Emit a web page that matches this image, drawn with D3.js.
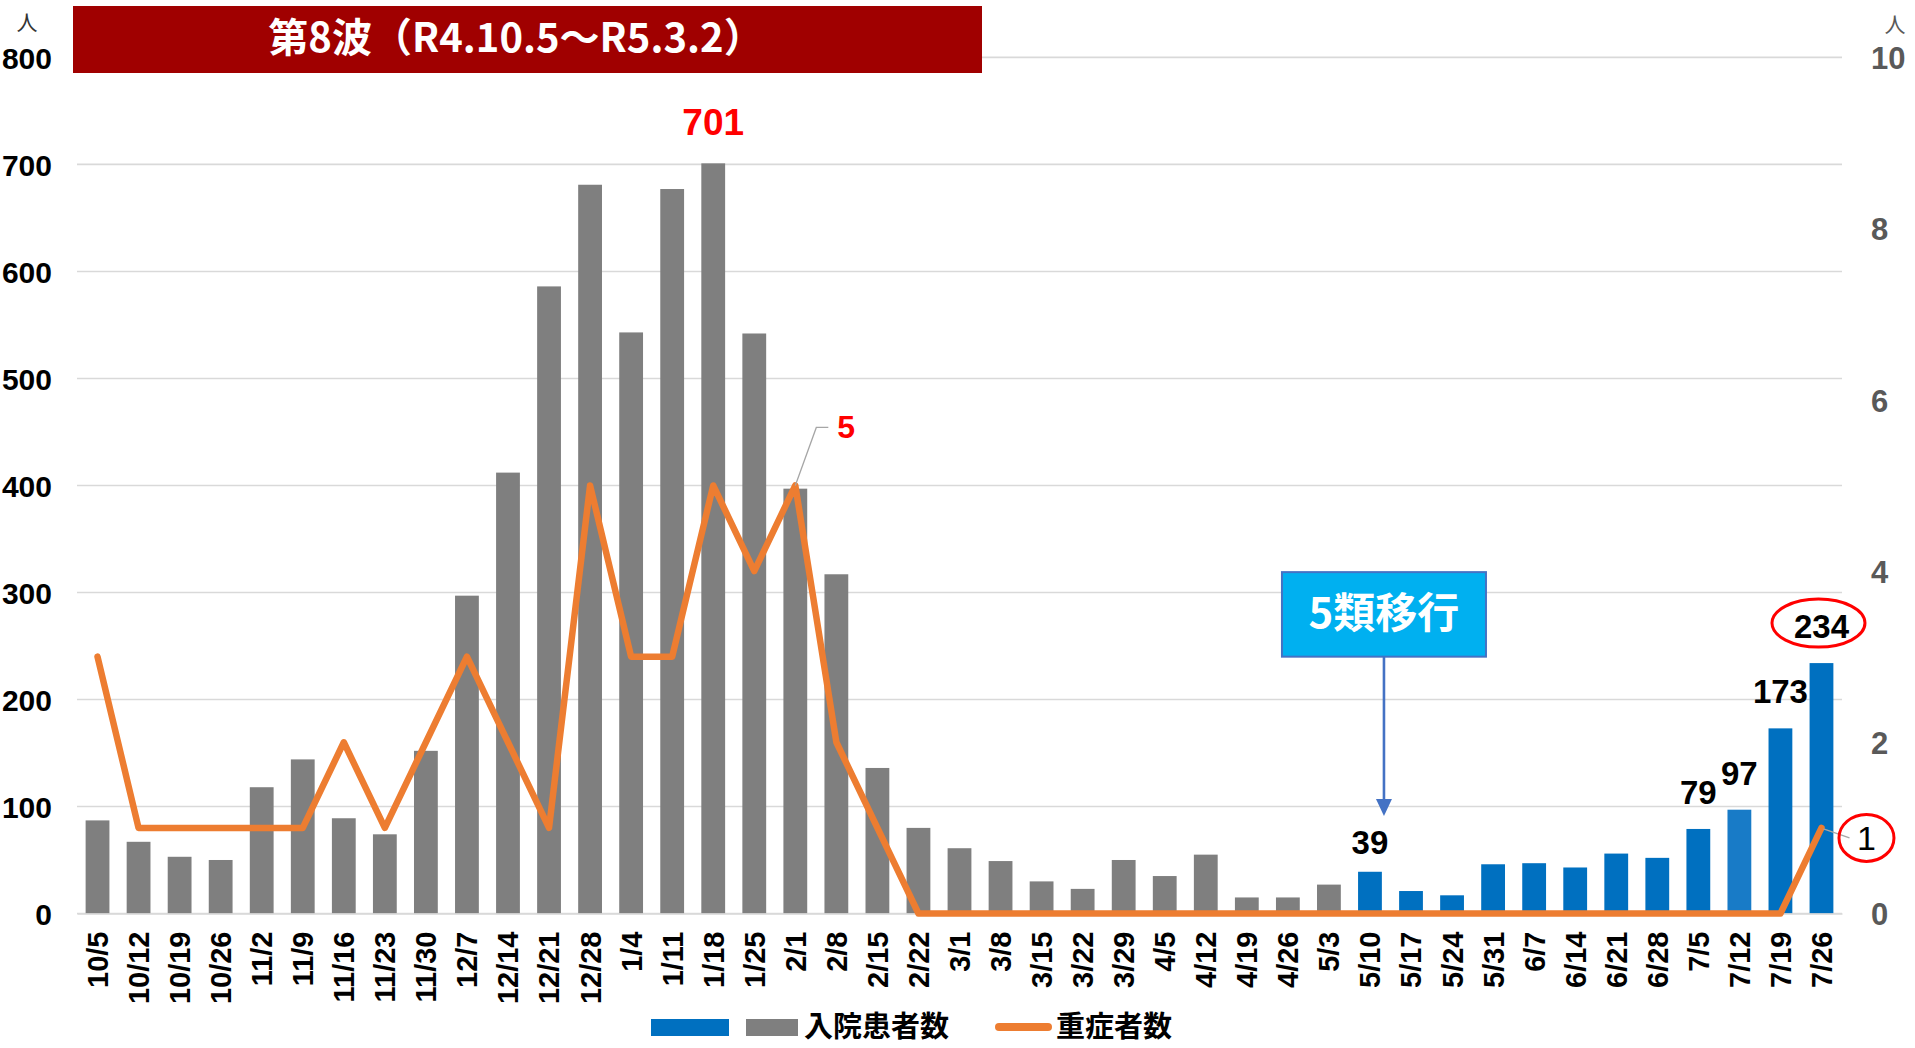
<!DOCTYPE html>
<html><head><meta charset="utf-8">
<script src="https://cdn.jsdelivr.net/npm/d3@7"></script>
<style>
html,body{margin:0;padding:0;background:#fff;}
svg{display:block;}
.num{font-family:"Liberation Sans",Arial,sans-serif;font-weight:bold;}
.cjk{font-family:"Noto Sans CJK JP","Noto Sans",sans-serif;font-weight:bold;}
</style></head>
<body>
<svg id="chart" width="1915" height="1048"></svg>
<script>
const categories = ["10/5","10/12","10/19","10/26","11/2","11/9","11/16","11/23","11/30","12/7","12/14","12/21","12/28","1/4","1/11","1/18","1/25","2/1","2/8","2/15","2/22","3/1","3/8","3/15","3/22","3/29","4/5","4/12","4/19","4/26","5/3","5/10","5/17","5/24","5/31","6/7","6/14","6/21","6/28","7/5","7/12","7/19","7/26"];
const hospitalized = [87,67,53,50,118,144,89,74,152,297,412,586,681,543,677,701,542,397,317,136,80,61,49,30,23,50,35,55,15,15,27,39,21,17,46,47,43,56,52,79,97,173,234];
const severe = [3,1,1,1,1,1,2,1,2,3,2,1,5,3,3,5,4,5,2,1,0,0,0,0,0,0,0,0,0,0,0,0,0,0,0,0,0,0,0,0,0,0,1];
const leftTicks = [0,100,200,300,400,500,600,700,800];
const rightTicks = [0,2,4,6,8,10];
const titleText = "第8波（R4.10.5～R5.3.2）";
const seriesNames = ["入院患者数","重症者数"];
const shiftLabel = "5類移行";
const shiftCategory = "5/10";
const blackLabelCats = ["5/10","7/5","7/12","7/19","7/26"];
const peakCat = "1/18";
const severePeakCat = "2/1";
const lastCat = "7/26";

const svg = d3.select("#chart");
const L = 77, R = 1842, T = 57.4, B = 913.5;

const x = d3.scaleBand().domain(categories).range([L, R]).paddingInner(0.42).paddingOuter(0.21);
const y = d3.scaleLinear().domain([0, 800]).range([B, T]);
const y2 = d3.scaleLinear().domain([0, 10]).range([B, T]);
const xc = c => x(c) + x.bandwidth() / 2;

const GRAY = "#7f7f7f", BLUE = "#0070c0", BLUE2 = "#187bc7", ORANGE = "#ed7d31";
const shiftIdx = categories.indexOf(shiftCategory);
const barColor = (c, i) => i < shiftIdx ? GRAY : (c === "7/12" ? BLUE2 : BLUE);

// gridlines
svg.append("g").selectAll("line").data(leftTicks).join("line")
  .attr("x1", L).attr("x2", R).attr("y1", d => y(d)).attr("y2", d => y(d))
  .attr("stroke", "#d9d9d9").attr("stroke-width", 1.6);

// left axis
const yAxis = d3.axisLeft(y).tickValues(leftTicks).tickSize(0).tickPadding(0);
const gy = svg.append("g").attr("transform", `translate(${52},0)`).call(yAxis);
gy.select(".domain").remove();
gy.selectAll("text").attr("class", "num").style("font-size", "30px").attr("fill", "#000").attr("dy", "0.36em");

// right axis
const yAxis2 = d3.axisRight(y2).tickValues(rightTicks).tickSize(0).tickPadding(0);
const gy2 = svg.append("g").attr("transform", `translate(${1871},0)`).call(yAxis2);
gy2.select(".domain").remove();
gy2.selectAll("text").attr("class", "num").style("font-size", "31px").attr("fill", "#595959").attr("dy", "0.36em");

// unit labels
svg.append("text").attr("class", "cjk").attr("x", 27).attr("y", 30).attr("text-anchor", "middle")
  .style("font-size", "21px").style("font-weight", "normal").attr("fill", "#333").text("人");
svg.append("text").attr("class", "cjk").attr("x", 1895).attr("y", 32).attr("text-anchor", "middle")
  .style("font-size", "21px").style("font-weight", "normal").attr("fill", "#595959").text("人");

// bars
svg.append("g").selectAll("rect").data(categories).join("rect")
  .attr("x", d => x(d)).attr("width", x.bandwidth())
  .attr("y", (d, i) => y(hospitalized[i])).attr("height", (d, i) => y(0) - y(hospitalized[i]))
  .attr("fill", (d, i) => barColor(d, i));

// x axis
const xAxis = d3.axisBottom(x).tickSize(0).tickPadding(0);
const gx = svg.append("g").attr("transform", `translate(0,${B})`).call(xAxis);
gx.select(".domain").attr("stroke", "#d9d9d9").attr("stroke-width", 1.6);
gx.selectAll("text").attr("class", "num").style("font-size", "29px").attr("fill", "#000")
  .attr("transform", "translate(0,18) rotate(-90)").attr("text-anchor", "end")
  .attr("x", 0).attr("y", 0).attr("dy", "0.36em");

// severe line
const line = d3.line().x((d, i) => xc(categories[i])).y(d => y2(d));
svg.append("path").datum(severe).attr("d", line).attr("fill", "none")
  .attr("stroke", ORANGE).attr("stroke-width", 6.5).attr("stroke-linejoin", "round").attr("stroke-linecap", "round");

// peak label 701
const pi = categories.indexOf(peakCat);
svg.append("text").attr("class", "num").attr("x", xc(peakCat)).attr("y", y(hospitalized[pi]) - 28)
  .attr("text-anchor", "middle").style("font-size", "37px").attr("fill", "#ff0000").text(hospitalized[pi]);

// black labels
blackLabelCats.forEach(c => {
  const i = categories.indexOf(c);
  const off = c === shiftCategory ? 18 : 25;
  svg.append("text").attr("class", "num").attr("x", xc(c)).attr("y", y(hospitalized[i]) - off)
    .attr("text-anchor", "middle").style("font-size", "33px").attr("fill", "#000").text(hospitalized[i]);
});

// circle around last bar label
const li = categories.indexOf(lastCat);
svg.append("ellipse").attr("cx", xc(lastCat) - 3).attr("cy", y(hospitalized[li]) - 40)
  .attr("rx", 46.5).attr("ry", 24).attr("fill", "none").attr("stroke", "#ff0000").attr("stroke-width", 3);

// severe peak label "5" with leader
const si = categories.indexOf(severePeakCat);
const sx = xc(severePeakCat), sy = y2(severe[si]);
svg.append("path").attr("d", `M${sx},${sy} L${sx + 21},${sy - 58} L${sx + 33},${sy - 58}`)
  .attr("fill", "none").attr("stroke", "#a6a6a6").attr("stroke-width", 1.3);
svg.append("text").attr("class", "num").attr("x", sx + 42).attr("y", sy - 47)
  .style("font-size", "32px").attr("fill", "#ff0000").text(severe[si]);

// last severe label "1" with circle
const lx = xc(lastCat), ly = y2(severe[li]);
svg.append("line").attr("x1", lx + 2).attr("y1", ly + 1).attr("x2", lx + 28).attr("y2", ly + 10)
  .attr("stroke", "#a6a6a6").attr("stroke-width", 1.3);
svg.append("ellipse").attr("cx", lx + 45).attr("cy", ly + 10).attr("rx", 27.5).attr("ry", 23.5)
  .attr("fill", "none").attr("stroke", "#ff0000").attr("stroke-width", 3);
svg.append("text").attr("class", "num").attr("x", lx + 45).attr("y", ly + 10).attr("dy", "0.36em")
  .attr("text-anchor", "middle").style("font-size", "34px").style("font-weight", "normal").attr("fill", "#000").text(severe[li]);

// 5類移行 box + arrow
const ax = xc(shiftCategory) + 14;
const boxTop = y(319), boxBot = y(240);
svg.append("rect").attr("x", ax - 102).attr("y", boxTop).attr("width", 204).attr("height", boxBot - boxTop)
  .attr("fill", "#00b0f0").attr("stroke", "#4472c4").attr("stroke-width", 2);
svg.append("text").attr("class", "cjk").attr("x", ax).attr("y", (boxTop + boxBot) / 2 - 2).attr("dy", "0.36em")
  .attr("text-anchor", "middle").style("font-size", "42px").attr("fill", "#fff").text(shiftLabel);
const tipY = y(91);
svg.append("line").attr("x1", ax).attr("x2", ax).attr("y1", boxBot).attr("y2", tipY - 14)
  .attr("stroke", "#4472c4").attr("stroke-width", 2.6);
svg.append("path").attr("d", `M${ax - 8},${tipY - 17} L${ax + 8},${tipY - 17} L${ax},${tipY} Z`).attr("fill", "#4472c4");

// title box
svg.append("rect").attr("x", 73).attr("y", 6).attr("width", 909).attr("height", 67).attr("fill", "#a00000");
svg.append("text").attr("class", "cjk").attr("x", 516).attr("y", 38).attr("dy", "0.36em")
  .attr("text-anchor", "middle").style("font-size", "40px").attr("fill", "#fff").text(titleText);

// legend
const lgY = 1027;
const lg = svg.append("g");
lg.append("rect").attr("x", 651).attr("y", lgY - 8).attr("width", 78).attr("height", 17).attr("fill", BLUE);
lg.append("rect").attr("x", 746).attr("y", lgY - 8).attr("width", 52).attr("height", 17).attr("fill", GRAY);
lg.append("text").attr("class", "cjk").attr("x", 804).attr("y", lgY).attr("dy", "0.34em")
  .style("font-size", "29px").attr("fill", "#000").text(seriesNames[0]);
lg.append("line").attr("x1", 999).attr("x2", 1048).attr("y1", lgY).attr("y2", lgY)
  .attr("stroke", ORANGE).attr("stroke-width", 8).attr("stroke-linecap", "round");
lg.append("text").attr("class", "cjk").attr("x", 1056).attr("y", lgY).attr("dy", "0.34em")
  .style("font-size", "29px").attr("fill", "#000").text(seriesNames[1]);
</script>
</body></html>
